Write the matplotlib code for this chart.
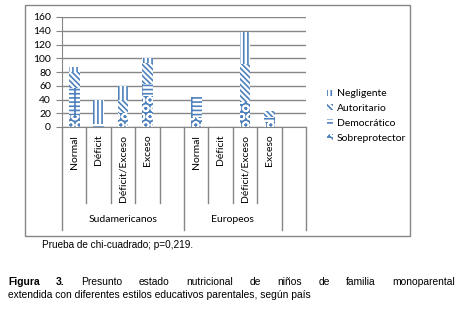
import matplotlib
matplotlib.use("Agg")
import matplotlib.pyplot as plt
from matplotlib.patches import Rectangle
from matplotlib.transforms import blended_transform_factory

# datos
categorias = ["Normal", "Déficit", "Déficit/Exceso", "Exceso", "",
              "Normal", "Déficit", "Déficit/Exceso", "Exceso", ""]
grupos = ["Sudamericanos", "Europeos", ""]
grupo_n = [5, 4, 1]
estilos = ["Sobreprotector", "Democrático", "Autoritario", "Negligente"]
sobreprotector = [17, 0, 20, 45, 0, 14, 0, 37, 8, 0]
democratico = [40, 5, 0, 18, 0, 30, 0, 0, 6, 0]
autoritario = [23, 0, 19, 30, 0, 0, 0, 54, 9, 0]
negligente = [8, 35, 21, 7, 0, 0, 0, 47, 0, 0]
y_ticks = [0, 20, 40, 60, 80, 100, 120, 140, 160]

nota = "Prueba de chi-cuadrado; p=0,219."
pie_1 = "Figura 3. Presunto estado nutricional de niños de familia monoparental"
pie_2 = "extendida con diferentes estilos educativos parentales, según país"

azul = "#4F81BD"
gris = "#868686"
W, H = 463, 310

plt.rcParams["font.family"] = ["Lato", "DejaVu Sans"]
plt.rcParams["hatch.linewidth"] = 1.2

fig = plt.figure(figsize=(W / 100, H / 100), dpi=100)

# marco del grafico
fig.patches.append(Rectangle((25 / W, 1 - 236 / H), 385 / W, 231 / H,
                             transform=fig.transFigure, fill=False,
                             edgecolor=gris, linewidth=1))

ax = fig.add_axes([62 / W, 1 - 127 / H, 244 / W, 110 / H])
x = list(range(len(categorias)))
estilo_fmt = [
    dict(color=azul, edgecolor="white", hatch="OO"),
    dict(color="white", edgecolor=azul, hatch="---+"),
    dict(color="white", edgecolor=azul, hatch="\\\\\\\\\\\\"),
    dict(color="white", edgecolor=azul, hatch="||||"),
]
series = [sobreprotector, democratico, autoritario, negligente]
base = [0] * len(x)
handles = []
for nombre, vals, fmt in zip(estilos, series, estilo_fmt):
    b = ax.bar(x, vals, width=0.44, bottom=base, facecolor=fmt["color"],
               edgecolor=fmt["edgecolor"], hatch=fmt["hatch"], linewidth=0,
               label=nombre, zorder=3)
    handles.append(b)
    base = [a + v for a, v in zip(base, vals)]

ax.set_xlim(-0.5, len(x) - 0.5)
ax.set_ylim(0, 160)
ax.set_yticks(y_ticks)
ax.tick_params(axis="y", length=4, color=gris, labelsize=7.5, pad=4)
ax.set_xticks([])
ax.yaxis.grid(True, color=gris, linewidth=1, zorder=0)
ax.set_axisbelow(True)
for s in ["top", "right"]:
    ax.spines[s].set_visible(False)
for s in ["left", "bottom"]:
    ax.spines[s].set_color(gris)

# ejes de categorias en dos niveles
tr = blended_transform_factory(ax.transData, ax.transAxes)
for i, c in enumerate(categorias):
    ax.text(i, -0.07, c, rotation=90, ha="center", va="top", fontsize=7.5,
            transform=tr)
largos = [-0.5]
acum = -0.5
for n in grupo_n:
    acum += n
    largos.append(acum)
for i in range(len(categorias) + 1):
    xb = i - 0.5
    y_fin = -0.935 if xb in largos else -0.69
    ax.plot([xb, xb], [0, y_fin], color=gris, linewidth=1, transform=tr,
            clip_on=False)
inicio = -0.5
for g, n in zip(grupos, grupo_n):
    ax.text(inicio + n / 2, -0.84, g, ha="center", va="center", fontsize=7.5,
            transform=tr)
    inicio += n

leg = fig.legend(handles[::-1], estilos[::-1], loc="upper left",
                 bbox_to_anchor=(318 / W, 1 - 80 / H), frameon=False,
                 fontsize=7.5, handlelength=0.5, handleheight=0.5,
                 handletextpad=0.4, labelspacing=0.55)

# textos al pie
fig.text(42 / W, 1 - 245 / H, nota, fontsize=7.2,
         family="Liberation Sans", va="center")
fs = 7.4
fig.text(8 / W, 1 - 295 / H, pie_2, fontsize=fs,
         family="Liberation Sans", va="center")

# primera linea justificada
fig.canvas.draw()
rend = fig.canvas.get_renderer()
palabras = pie_1.split()
objs = []
for k, p in enumerate(palabras):
    objs.append(fig.text(0, 1 - 282 / H, p, fontsize=fs,
                         family="Liberation Sans", va="center",
                         weight="bold" if k < 2 else "normal"))
anchos = [o.get_window_extent(rend).width for o in objs]
hueco = (455 - 8 - sum(anchos)) / (len(objs) - 1)
xp = 8
for o, w in zip(objs, anchos):
    o.set_x(xp / W)
    xp += w + hueco

fig.savefig("out.png", dpi=100)
